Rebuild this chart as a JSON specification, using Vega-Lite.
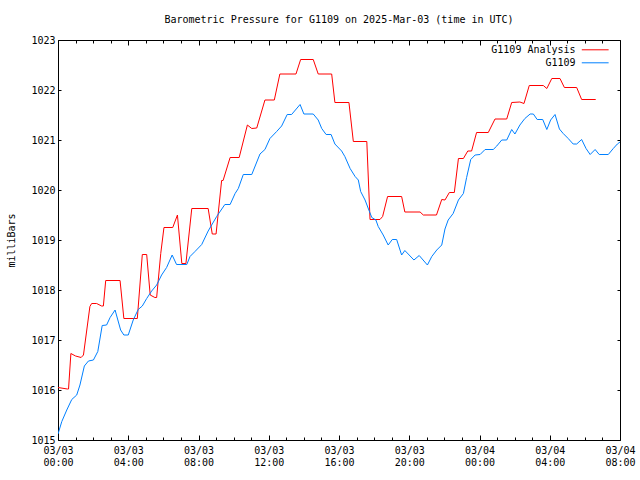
{
  "$schema": "https://vega.github.io/schema/vega-lite/v6.json",
  "autosize": {"type": "none"},
  "padding": {"left": 58, "top": 40, "right": 20, "bottom": 40},
  "width": 562,
  "height": 400,
  "background": "white",
  "title": {"text": "Barometric Pressure for G1109 on 2025-Mar-03 (time in UTC)", "font": "DejaVu Sans Mono", "fontSize": 10, "fontWeight": "normal", "color": "black", "baseline": "alphabetic", "offset": 2},
  "config": {
    "view": {"stroke": null},
    "axis": {"labelFont": "DejaVu Sans Mono", "labelFontSize": 10, "labelColor": "black", "titleFont": "DejaVu Sans Mono", "titleFontSize": 10, "titleFontWeight": "normal", "titleColor": "black", "domainColor": "black", "domainWidth": 1, "tickColor": "black", "tickWidth": 1, "grid": false},
    "legend": {"labelFont": "DejaVu Sans Mono", "labelFontSize": 10, "labelColor": "black"}
  },
  "data": {"values": [
    {"t": "2025-03-03T00:00:00Z", "series": "G1109 Analysis", "p": 1016.05},
    {"t": "2025-03-03T00:32:00Z", "series": "G1109 Analysis", "p": 1016.02},
    {"t": "2025-03-03T00:36:00Z", "series": "G1109 Analysis", "p": 1016.02},
    {"t": "2025-03-03T00:44:00Z", "series": "G1109 Analysis", "p": 1016.73},
    {"t": "2025-03-03T01:00:00Z", "series": "G1109 Analysis", "p": 1016.68},
    {"t": "2025-03-03T01:19:00Z", "series": "G1109 Analysis", "p": 1016.65},
    {"t": "2025-03-03T01:27:00Z", "series": "G1109 Analysis", "p": 1016.7},
    {"t": "2025-03-03T01:49:00Z", "series": "G1109 Analysis", "p": 1017.67},
    {"t": "2025-03-03T01:55:00Z", "series": "G1109 Analysis", "p": 1017.73},
    {"t": "2025-03-03T02:12:00Z", "series": "G1109 Analysis", "p": 1017.73},
    {"t": "2025-03-03T02:29:00Z", "series": "G1109 Analysis", "p": 1017.68},
    {"t": "2025-03-03T02:35:00Z", "series": "G1109 Analysis", "p": 1017.68},
    {"t": "2025-03-03T02:43:00Z", "series": "G1109 Analysis", "p": 1018.19},
    {"t": "2025-03-03T03:32:00Z", "series": "G1109 Analysis", "p": 1018.19},
    {"t": "2025-03-03T03:45:00Z", "series": "G1109 Analysis", "p": 1017.43},
    {"t": "2025-03-03T04:31:00Z", "series": "G1109 Analysis", "p": 1017.43},
    {"t": "2025-03-03T04:48:00Z", "series": "G1109 Analysis", "p": 1018.71},
    {"t": "2025-03-03T05:03:00Z", "series": "G1109 Analysis", "p": 1018.71},
    {"t": "2025-03-03T05:15:00Z", "series": "G1109 Analysis", "p": 1017.9},
    {"t": "2025-03-03T05:31:00Z", "series": "G1109 Analysis", "p": 1017.85},
    {"t": "2025-03-03T05:37:00Z", "series": "G1109 Analysis", "p": 1017.85},
    {"t": "2025-03-03T05:51:00Z", "series": "G1109 Analysis", "p": 1018.73},
    {"t": "2025-03-03T06:02:00Z", "series": "G1109 Analysis", "p": 1019.25},
    {"t": "2025-03-03T06:32:00Z", "series": "G1109 Analysis", "p": 1019.25},
    {"t": "2025-03-03T06:48:00Z", "series": "G1109 Analysis", "p": 1019.5},
    {"t": "2025-03-03T07:03:00Z", "series": "G1109 Analysis", "p": 1018.53},
    {"t": "2025-03-03T07:17:00Z", "series": "G1109 Analysis", "p": 1018.53},
    {"t": "2025-03-03T07:37:00Z", "series": "G1109 Analysis", "p": 1019.63},
    {"t": "2025-03-03T08:33:00Z", "series": "G1109 Analysis", "p": 1019.63},
    {"t": "2025-03-03T08:47:00Z", "series": "G1109 Analysis", "p": 1019.12},
    {"t": "2025-03-03T09:00:00Z", "series": "G1109 Analysis", "p": 1019.12},
    {"t": "2025-03-03T09:19:00Z", "series": "G1109 Analysis", "p": 1020.19},
    {"t": "2025-03-03T09:24:00Z", "series": "G1109 Analysis", "p": 1020.19},
    {"t": "2025-03-03T09:48:00Z", "series": "G1109 Analysis", "p": 1020.65},
    {"t": "2025-03-03T10:19:00Z", "series": "G1109 Analysis", "p": 1020.65},
    {"t": "2025-03-03T10:47:00Z", "series": "G1109 Analysis", "p": 1021.3},
    {"t": "2025-03-03T11:02:00Z", "series": "G1109 Analysis", "p": 1021.23},
    {"t": "2025-03-03T11:19:00Z", "series": "G1109 Analysis", "p": 1021.24},
    {"t": "2025-03-03T11:47:00Z", "series": "G1109 Analysis", "p": 1021.8},
    {"t": "2025-03-03T12:19:00Z", "series": "G1109 Analysis", "p": 1021.8},
    {"t": "2025-03-03T12:38:00Z", "series": "G1109 Analysis", "p": 1022.32},
    {"t": "2025-03-03T13:33:00Z", "series": "G1109 Analysis", "p": 1022.32},
    {"t": "2025-03-03T13:49:00Z", "series": "G1109 Analysis", "p": 1022.61},
    {"t": "2025-03-03T14:32:00Z", "series": "G1109 Analysis", "p": 1022.61},
    {"t": "2025-03-03T14:49:00Z", "series": "G1109 Analysis", "p": 1022.32},
    {"t": "2025-03-03T15:35:00Z", "series": "G1109 Analysis", "p": 1022.32},
    {"t": "2025-03-03T15:46:00Z", "series": "G1109 Analysis", "p": 1021.75},
    {"t": "2025-03-03T16:34:00Z", "series": "G1109 Analysis", "p": 1021.75},
    {"t": "2025-03-03T16:49:00Z", "series": "G1109 Analysis", "p": 1020.97},
    {"t": "2025-03-03T17:35:00Z", "series": "G1109 Analysis", "p": 1020.97},
    {"t": "2025-03-03T17:46:00Z", "series": "G1109 Analysis", "p": 1019.41},
    {"t": "2025-03-03T18:20:00Z", "series": "G1109 Analysis", "p": 1019.41},
    {"t": "2025-03-03T18:29:00Z", "series": "G1109 Analysis", "p": 1019.47},
    {"t": "2025-03-03T18:46:00Z", "series": "G1109 Analysis", "p": 1019.87},
    {"t": "2025-03-03T19:34:00Z", "series": "G1109 Analysis", "p": 1019.87},
    {"t": "2025-03-03T19:45:00Z", "series": "G1109 Analysis", "p": 1019.56},
    {"t": "2025-03-03T20:37:00Z", "series": "G1109 Analysis", "p": 1019.56},
    {"t": "2025-03-03T20:48:00Z", "series": "G1109 Analysis", "p": 1019.5},
    {"t": "2025-03-03T21:33:00Z", "series": "G1109 Analysis", "p": 1019.5},
    {"t": "2025-03-03T21:51:00Z", "series": "G1109 Analysis", "p": 1019.81},
    {"t": "2025-03-03T22:02:00Z", "series": "G1109 Analysis", "p": 1019.8},
    {"t": "2025-03-03T22:17:00Z", "series": "G1109 Analysis", "p": 1019.95},
    {"t": "2025-03-03T22:34:00Z", "series": "G1109 Analysis", "p": 1019.95},
    {"t": "2025-03-03T22:48:00Z", "series": "G1109 Analysis", "p": 1020.63},
    {"t": "2025-03-03T23:05:00Z", "series": "G1109 Analysis", "p": 1020.63},
    {"t": "2025-03-03T23:20:00Z", "series": "G1109 Analysis", "p": 1020.78},
    {"t": "2025-03-03T23:33:00Z", "series": "G1109 Analysis", "p": 1020.78},
    {"t": "2025-03-03T23:50:00Z", "series": "G1109 Analysis", "p": 1021.15},
    {"t": "2025-03-04T00:30:00Z", "series": "G1109 Analysis", "p": 1021.15},
    {"t": "2025-03-04T00:53:00Z", "series": "G1109 Analysis", "p": 1021.42},
    {"t": "2025-03-04T01:33:00Z", "series": "G1109 Analysis", "p": 1021.42},
    {"t": "2025-03-04T01:50:00Z", "series": "G1109 Analysis", "p": 1021.75},
    {"t": "2025-03-04T02:18:00Z", "series": "G1109 Analysis", "p": 1021.76},
    {"t": "2025-03-04T02:32:00Z", "series": "G1109 Analysis", "p": 1021.73},
    {"t": "2025-03-04T02:50:00Z", "series": "G1109 Analysis", "p": 1022.09},
    {"t": "2025-03-04T03:38:00Z", "series": "G1109 Analysis", "p": 1022.09},
    {"t": "2025-03-04T03:50:00Z", "series": "G1109 Analysis", "p": 1022.03},
    {"t": "2025-03-04T04:07:00Z", "series": "G1109 Analysis", "p": 1022.23},
    {"t": "2025-03-04T04:35:00Z", "series": "G1109 Analysis", "p": 1022.23},
    {"t": "2025-03-04T04:50:00Z", "series": "G1109 Analysis", "p": 1022.05},
    {"t": "2025-03-04T05:32:00Z", "series": "G1109 Analysis", "p": 1022.05},
    {"t": "2025-03-04T05:49:00Z", "series": "G1109 Analysis", "p": 1021.81},
    {"t": "2025-03-04T06:37:00Z", "series": "G1109 Analysis", "p": 1021.81},
    {"t": "2025-03-03T00:00:00Z", "series": "G1109", "p": 1015.12},
    {"t": "2025-03-03T00:13:00Z", "series": "G1109", "p": 1015.37},
    {"t": "2025-03-03T00:30:00Z", "series": "G1109", "p": 1015.6},
    {"t": "2025-03-03T00:47:00Z", "series": "G1109", "p": 1015.81},
    {"t": "2025-03-03T01:04:00Z", "series": "G1109", "p": 1015.9},
    {"t": "2025-03-03T01:15:00Z", "series": "G1109", "p": 1016.1},
    {"t": "2025-03-03T01:30:00Z", "series": "G1109", "p": 1016.48},
    {"t": "2025-03-03T01:44:00Z", "series": "G1109", "p": 1016.58},
    {"t": "2025-03-03T02:01:00Z", "series": "G1109", "p": 1016.6},
    {"t": "2025-03-03T02:16:00Z", "series": "G1109", "p": 1016.77},
    {"t": "2025-03-03T02:31:00Z", "series": "G1109", "p": 1017.29},
    {"t": "2025-03-03T02:46:00Z", "series": "G1109", "p": 1017.3},
    {"t": "2025-03-03T02:58:00Z", "series": "G1109", "p": 1017.45},
    {"t": "2025-03-03T03:15:00Z", "series": "G1109", "p": 1017.6},
    {"t": "2025-03-03T03:34:00Z", "series": "G1109", "p": 1017.2},
    {"t": "2025-03-03T03:45:00Z", "series": "G1109", "p": 1017.1},
    {"t": "2025-03-03T04:00:00Z", "series": "G1109", "p": 1017.1},
    {"t": "2025-03-03T04:17:00Z", "series": "G1109", "p": 1017.4},
    {"t": "2025-03-03T04:34:00Z", "series": "G1109", "p": 1017.61},
    {"t": "2025-03-03T04:48:00Z", "series": "G1109", "p": 1017.68},
    {"t": "2025-03-03T05:03:00Z", "series": "G1109", "p": 1017.83},
    {"t": "2025-03-03T05:20:00Z", "series": "G1109", "p": 1017.98},
    {"t": "2025-03-03T05:37:00Z", "series": "G1109", "p": 1018.1},
    {"t": "2025-03-03T05:54:00Z", "series": "G1109", "p": 1018.3},
    {"t": "2025-03-03T06:11:00Z", "series": "G1109", "p": 1018.45},
    {"t": "2025-03-03T06:30:00Z", "series": "G1109", "p": 1018.7},
    {"t": "2025-03-03T06:45:00Z", "series": "G1109", "p": 1018.51},
    {"t": "2025-03-03T07:20:00Z", "series": "G1109", "p": 1018.51},
    {"t": "2025-03-03T07:31:00Z", "series": "G1109", "p": 1018.67},
    {"t": "2025-03-03T07:48:00Z", "series": "G1109", "p": 1018.77},
    {"t": "2025-03-03T08:11:00Z", "series": "G1109", "p": 1018.91},
    {"t": "2025-03-03T08:33:00Z", "series": "G1109", "p": 1019.18},
    {"t": "2025-03-03T09:02:00Z", "series": "G1109", "p": 1019.47},
    {"t": "2025-03-03T09:30:00Z", "series": "G1109", "p": 1019.71},
    {"t": "2025-03-03T09:48:00Z", "series": "G1109", "p": 1019.71},
    {"t": "2025-03-03T10:05:00Z", "series": "G1109", "p": 1019.93},
    {"t": "2025-03-03T10:16:00Z", "series": "G1109", "p": 1020.03},
    {"t": "2025-03-03T10:33:00Z", "series": "G1109", "p": 1020.31},
    {"t": "2025-03-03T11:02:00Z", "series": "G1109", "p": 1020.31},
    {"t": "2025-03-03T11:30:00Z", "series": "G1109", "p": 1020.72},
    {"t": "2025-03-03T11:47:00Z", "series": "G1109", "p": 1020.81},
    {"t": "2025-03-03T12:04:00Z", "series": "G1109", "p": 1021.03},
    {"t": "2025-03-03T12:27:00Z", "series": "G1109", "p": 1021.17},
    {"t": "2025-03-03T12:44:00Z", "series": "G1109", "p": 1021.28},
    {"t": "2025-03-03T13:03:00Z", "series": "G1109", "p": 1021.51},
    {"t": "2025-03-03T13:18:00Z", "series": "G1109", "p": 1021.51},
    {"t": "2025-03-03T13:47:00Z", "series": "G1109", "p": 1021.71},
    {"t": "2025-03-03T14:00:00Z", "series": "G1109", "p": 1021.52},
    {"t": "2025-03-03T14:32:00Z", "series": "G1109", "p": 1021.52},
    {"t": "2025-03-03T14:49:00Z", "series": "G1109", "p": 1021.4},
    {"t": "2025-03-03T15:01:00Z", "series": "G1109", "p": 1021.23},
    {"t": "2025-03-03T15:16:00Z", "series": "G1109", "p": 1021.11},
    {"t": "2025-03-03T15:33:00Z", "series": "G1109", "p": 1021.11},
    {"t": "2025-03-03T15:46:00Z", "series": "G1109", "p": 1020.92},
    {"t": "2025-03-03T16:09:00Z", "series": "G1109", "p": 1020.78},
    {"t": "2025-03-03T16:20:00Z", "series": "G1109", "p": 1020.67},
    {"t": "2025-03-03T16:38:00Z", "series": "G1109", "p": 1020.43},
    {"t": "2025-03-03T16:55:00Z", "series": "G1109", "p": 1020.27},
    {"t": "2025-03-03T17:06:00Z", "series": "G1109", "p": 1020.2},
    {"t": "2025-03-03T17:14:00Z", "series": "G1109", "p": 1019.97},
    {"t": "2025-03-03T17:29:00Z", "series": "G1109", "p": 1019.8},
    {"t": "2025-03-03T17:42:00Z", "series": "G1109", "p": 1019.6},
    {"t": "2025-03-03T17:52:00Z", "series": "G1109", "p": 1019.45},
    {"t": "2025-03-03T18:06:00Z", "series": "G1109", "p": 1019.4},
    {"t": "2025-03-03T18:14:00Z", "series": "G1109", "p": 1019.27},
    {"t": "2025-03-03T18:31:00Z", "series": "G1109", "p": 1019.1},
    {"t": "2025-03-03T18:48:00Z", "series": "G1109", "p": 1018.9},
    {"t": "2025-03-03T19:02:00Z", "series": "G1109", "p": 1019.01},
    {"t": "2025-03-03T19:17:00Z", "series": "G1109", "p": 1019.01},
    {"t": "2025-03-03T19:34:00Z", "series": "G1109", "p": 1018.7},
    {"t": "2025-03-03T19:45:00Z", "series": "G1109", "p": 1018.79},
    {"t": "2025-03-03T20:16:00Z", "series": "G1109", "p": 1018.6},
    {"t": "2025-03-03T20:34:00Z", "series": "G1109", "p": 1018.69},
    {"t": "2025-03-03T21:02:00Z", "series": "G1109", "p": 1018.5},
    {"t": "2025-03-03T21:17:00Z", "series": "G1109", "p": 1018.67},
    {"t": "2025-03-03T21:34:00Z", "series": "G1109", "p": 1018.8},
    {"t": "2025-03-03T21:51:00Z", "series": "G1109", "p": 1018.9},
    {"t": "2025-03-03T22:02:00Z", "series": "G1109", "p": 1019.22},
    {"t": "2025-03-03T22:13:00Z", "series": "G1109", "p": 1019.4},
    {"t": "2025-03-03T22:30:00Z", "series": "G1109", "p": 1019.53},
    {"t": "2025-03-03T22:48:00Z", "series": "G1109", "p": 1019.8},
    {"t": "2025-03-03T23:05:00Z", "series": "G1109", "p": 1019.93},
    {"t": "2025-03-03T23:16:00Z", "series": "G1109", "p": 1020.25},
    {"t": "2025-03-03T23:30:00Z", "series": "G1109", "p": 1020.61},
    {"t": "2025-03-03T23:45:00Z", "series": "G1109", "p": 1020.7},
    {"t": "2025-03-04T00:02:00Z", "series": "G1109", "p": 1020.71},
    {"t": "2025-03-04T00:19:00Z", "series": "G1109", "p": 1020.81},
    {"t": "2025-03-04T00:47:00Z", "series": "G1109", "p": 1020.81},
    {"t": "2025-03-04T00:59:00Z", "series": "G1109", "p": 1020.88},
    {"t": "2025-03-04T01:16:00Z", "series": "G1109", "p": 1021.0},
    {"t": "2025-03-04T01:33:00Z", "series": "G1109", "p": 1021.0},
    {"t": "2025-03-04T01:50:00Z", "series": "G1109", "p": 1021.21},
    {"t": "2025-03-04T02:01:00Z", "series": "G1109", "p": 1021.12},
    {"t": "2025-03-04T02:18:00Z", "series": "G1109", "p": 1021.3},
    {"t": "2025-03-04T02:35:00Z", "series": "G1109", "p": 1021.43},
    {"t": "2025-03-04T02:53:00Z", "series": "G1109", "p": 1021.52},
    {"t": "2025-03-04T03:04:00Z", "series": "G1109", "p": 1021.52},
    {"t": "2025-03-04T03:17:00Z", "series": "G1109", "p": 1021.41},
    {"t": "2025-03-04T03:36:00Z", "series": "G1109", "p": 1021.41},
    {"t": "2025-03-04T03:50:00Z", "series": "G1109", "p": 1021.21},
    {"t": "2025-03-04T04:03:00Z", "series": "G1109", "p": 1021.4},
    {"t": "2025-03-04T04:18:00Z", "series": "G1109", "p": 1021.51},
    {"t": "2025-03-04T04:33:00Z", "series": "G1109", "p": 1021.22},
    {"t": "2025-03-04T04:46:00Z", "series": "G1109", "p": 1021.13},
    {"t": "2025-03-04T05:03:00Z", "series": "G1109", "p": 1021.03},
    {"t": "2025-03-04T05:20:00Z", "series": "G1109", "p": 1020.92},
    {"t": "2025-03-04T05:32:00Z", "series": "G1109", "p": 1020.92},
    {"t": "2025-03-04T05:49:00Z", "series": "G1109", "p": 1021.01},
    {"t": "2025-03-04T06:04:00Z", "series": "G1109", "p": 1020.83},
    {"t": "2025-03-04T06:18:00Z", "series": "G1109", "p": 1020.71},
    {"t": "2025-03-04T06:35:00Z", "series": "G1109", "p": 1020.81},
    {"t": "2025-03-04T06:49:00Z", "series": "G1109", "p": 1020.71},
    {"t": "2025-03-04T07:20:00Z", "series": "G1109", "p": 1020.71},
    {"t": "2025-03-04T07:37:00Z", "series": "G1109", "p": 1020.83},
    {"t": "2025-03-04T07:51:00Z", "series": "G1109", "p": 1020.92},
    {"t": "2025-03-04T08:00:00Z", "series": "G1109", "p": 1020.96}
  ]},
  "layer": [
    {
      "transform": [{"filter": "datum.series === 'G1109 Analysis'"}],
      "mark": {"type": "line", "strokeWidth": 1, "clip": true},
      "encoding": {
        "x": {"field": "t", "type": "temporal",
          "scale": {"type": "utc", "domain": [1740960000000, 1741075200000], "nice": false},
          "axis": {"orient": "bottom", "title": null,
            "values": [1740960000000, 1740963600000, 1740967200000, 1740970800000, 1740974400000, 1740978000000, 1740981600000, 1740985200000, 1740988800000, 1740992400000, 1740996000000, 1740999600000, 1741003200000, 1741006800000, 1741010400000, 1741014000000, 1741017600000, 1741021200000, 1741024800000, 1741028400000, 1741032000000, 1741035600000, 1741039200000, 1741042800000, 1741046400000, 1741050000000, 1741053600000, 1741057200000, 1741060800000, 1741064400000, 1741068000000, 1741071600000, 1741075200000],
            "tickSize": {"condition": {"test": "utchours(datum.value) % 4 === 0", "value": -5}, "value": -3},
            "labelExpr": "utchours(datum.value) % 4 === 0 ? [utcFormat(datum.value, '%m/%d'), utcFormat(datum.value, '%H:%M')] : ''",
            "labelOverlap": false, "labelFlush": false, "labelBound": false, "labelPadding": 10, "labelLineHeight": 12, "labelBaseline": "top"}},
        "y": {"field": "p", "type": "quantitative",
          "scale": {"domain": [1015, 1023], "zero": false, "nice": false},
          "axis": {"orient": "left", "title": "milliBars", "values": [1015, 1016, 1017, 1018, 1019, 1020, 1021, 1022, 1023], "format": "d", "tickSize": -3, "labelPadding": 6,
            "titleX": -47, "titleY": 200, "titleAngle": -90, "titleAlign": "center", "titleBaseline": "middle"}},
        "color": {"field": "series", "type": "nominal",
          "scale": {"domain": ["G1109 Analysis", "G1109"], "range": ["#ff0000", "#0080ff"]},
          "legend": {"title": null, "orient": "none", "legendX": 529.7, "legendY": 2.3, "symbolType": "M-2,0L2,0", "symbolSize": 180, "symbolStrokeWidth": 1, "labelAlign": "right", "labelOffset": -27.1, "labelLimit": 300, "rowPadding": 0}}
      }
    },
    {
      "transform": [{"filter": "datum.series === 'G1109'"}],
      "mark": {"type": "line", "strokeWidth": 1, "clip": true},
      "encoding": {
        "x": {"field": "t", "type": "temporal",
          "axis": {"orient": "top", "title": null, "labels": false,
            "values": [1740960000000, 1740963600000, 1740967200000, 1740970800000, 1740974400000, 1740978000000, 1740981600000, 1740985200000, 1740988800000, 1740992400000, 1740996000000, 1740999600000, 1741003200000, 1741006800000, 1741010400000, 1741014000000, 1741017600000, 1741021200000, 1741024800000, 1741028400000, 1741032000000, 1741035600000, 1741039200000, 1741042800000, 1741046400000, 1741050000000, 1741053600000, 1741057200000, 1741060800000, 1741064400000, 1741068000000, 1741071600000, 1741075200000],
            "tickSize": {"condition": {"test": "utchours(datum.value) % 4 === 0", "value": -5}, "value": -3}}},
        "y": {"field": "p", "type": "quantitative",
          "axis": {"orient": "right", "title": null, "labels": false, "values": [1015, 1016, 1017, 1018, 1019, 1020, 1021, 1022, 1023], "tickSize": -3}},
        "color": {"field": "series", "type": "nominal"}
      }
    }
  ],
  "resolve": {"axis": {"x": "independent", "y": "independent"}}
}
